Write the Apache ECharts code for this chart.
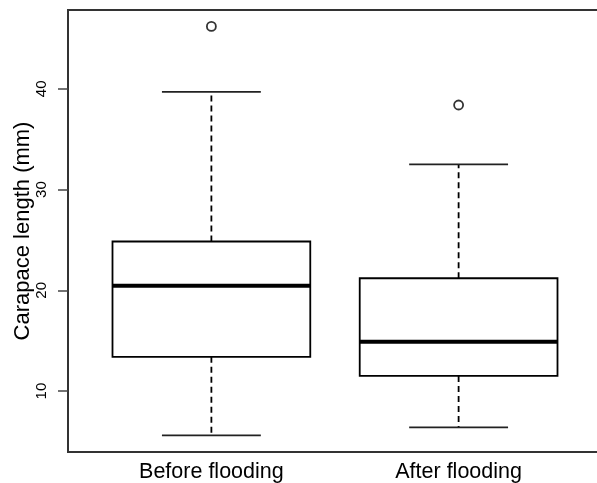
<!DOCTYPE html>
<html>
<head>
<meta charset="utf-8">
<script src="https://cdn.jsdelivr.net/npm/echarts@6/dist/echarts.min.js"></script>
<style>html,body{margin:0;padding:0;background:#fff}#c{width:597px;height:483px}</style>
</head>
<body>
<div id="c"></div>
<script>
var categories = ['Before flooding', 'After flooding'];
var lowWhisker = [5.6, 6.4];
var q1 = [13.4, 11.5];
var median = [20.45, 14.9];
var q3 = [24.85, 21.2];
var highWhisker = [39.7, 32.5];
var outliers = [[46.2], [38.4]];
var yTicks = [10, 20, 30, 40];
var yTitle = 'Carapace length (mm)';

var boxData = categories.map(function (c, i) {
  return [i + 1, lowWhisker[i], q1[i], median[i], q3[i], highWhisker[i]];
});
var outlierData = [];
outliers.forEach(function (arr, i) {
  arr.forEach(function (v) { outlierData.push([i + 1, v]); });
});

var FONT = '"Liberation Sans", Arial, Helvetica, sans-serif';
var chart = echarts.init(document.getElementById('c'), null, {renderer: 'canvas'});
chart.setOption({
  animation: false,
  backgroundColor: '#fff',
  grid: {left: 68, top: 10, width: 534, bottom: 31, containLabel: false, outerBoundsMode: 'none', show: true, borderColor: '#333', borderWidth: 2, backgroundColor: 'transparent'},
  xAxis: {
    type: 'value', min: 0.42, max: 2.58,
    splitLine: {show: false},
    axisLine: {show: false},
    axisTick: {show: false},
    axisLabel: {
      customValues: [1, 2],
      formatter: function (v) { return categories[Math.round(v) - 1] || ''; },
      fontSize: 21.5, color: '#000', fontFamily: FONT, margin: 9
    }
  },
  yAxis: {
    type: 'value', min: 3.95, max: 47.83,
    splitLine: {show: false},
    axisLine: {show: false},
    axisTick: {show: true, customValues: yTicks, length: 10, lineStyle: {color: '#444', width: 1.5}},
    axisLabel: {customValues: yTicks, rotate: 90, fontSize: 15, color: '#000', fontFamily: FONT, margin: 19},
    name: yTitle, nameLocation: 'middle', nameRotate: 90, nameGap: 34, nameMoveOverlap: false,
    nameTextStyle: {fontSize: 22, color: '#000', fontFamily: FONT}
  },
  series: [{
    type: 'custom',
    data: boxData,
    renderItem: function (params, api) {
      var x = api.value(0);
      var lo = api.coord([x, api.value(1)]);
      var b1 = api.coord([x, api.value(2)]);
      var md = api.coord([x, api.value(3)]);
      var b3 = api.coord([x, api.value(4)]);
      var hi = api.coord([x, api.value(5)]);
      var halfBox = api.size([0.4, 0])[0];
      var halfCap = api.size([0.2, 0])[0];
      var cx = lo[0];
      var dashStyle = {stroke: '#000', lineWidth: 1.8, lineDash: [6, 4]};
      var solid = {stroke: '#222', lineWidth: 1.8};
      return {
        type: 'group',
        children: [
          {type: 'line', shape: {x1: cx, y1: b3[1], x2: cx, y2: hi[1]}, style: dashStyle},
          {type: 'line', shape: {x1: cx, y1: b1[1], x2: cx, y2: lo[1]}, style: dashStyle},
          {type: 'line', shape: {x1: cx - halfCap, y1: hi[1], x2: cx + halfCap, y2: hi[1]}, style: solid},
          {type: 'line', shape: {x1: cx - halfCap, y1: lo[1], x2: cx + halfCap, y2: lo[1]}, style: solid},
          {type: 'rect', shape: {x: cx - halfBox, y: b3[1], width: 2 * halfBox, height: b1[1] - b3[1]}, style: {fill: '#fff', stroke: '#000', lineWidth: 1.8}},
          {type: 'line', shape: {x1: cx - halfBox, y1: md[1], x2: cx + halfBox, y2: md[1]}, style: {stroke: '#000', lineWidth: 4}}
        ]
      };
    }
  }, {
    type: 'scatter',
    data: outlierData,
    symbol: 'circle',
    symbolSize: 9,
    itemStyle: {color: '#fff', borderColor: '#000', borderWidth: 1.8}
  }]
});
</script>
</body>
</html>
